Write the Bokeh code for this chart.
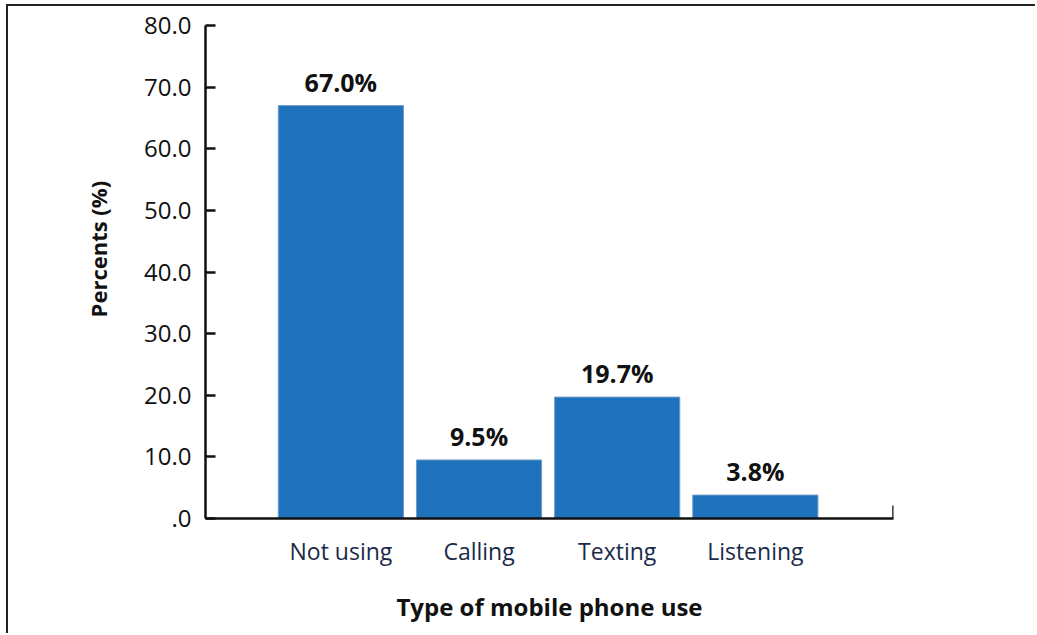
from bokeh.plotting import figure
from bokeh.models import ColumnDataSource, FixedTicker, LinearAxis, Range1d, LabelSet
from bokeh.core.properties import value
from bokeh.embed import file_html
from bokeh.resources import INLINE

categories = ["Not using", "Calling", "Texting", "Listening"]
values = [67.0, 9.5, 19.7, 3.8]
y_ticks = [0, 10, 20, 30, 40, 50, 60, 70, 80]
y_tick_labels = [".0", "10.0", "20.0", "30.0", "40.0", "50.0", "60.0", "70.0", "80.0"]

FONT = "Open Sans"
positions = list(range(1, len(categories) + 1))
src = ColumnDataSource(dict(x=positions, top=values, cat=categories,
                            lab=[f"{v:.1f}%" for v in values]))

p = figure(width=1029, height=629, output_backend="svg", toolbar_location=None,
           x_range=Range1d(0.02, 5.0), y_range=Range1d(0, 80),
           min_border_left=197, min_border_top=19, min_border_right=144, min_border_bottom=117,
           x_axis_location=None, y_axis_location=None)
p.styles = {"border-top": "2px solid #222", "border-left": "2px solid #222",
            "margin-left": "6px", "margin-top": "4px"}
p.outline_line_color = None
p.grid.visible = False
p.background_fill_color = "white"
p.border_fill_color = "white"

p.vbar(x="x", top="top", bottom=0, width=0.906, source=src,
       fill_color="#1f72bc", line_color="#6f9ccc", line_width=1)

labels = LabelSet(x="x", y="top", text="lab", source=src, text_align="center",
                  text_baseline="bottom", y_offset=7, text_font=value(FONT),
                  text_font_style="bold", text_font_size="25px", text_color="#111111")
p.add_layout(labels)

# y axis
ya = LinearAxis(ticker=FixedTicker(ticks=y_ticks),
                major_label_overrides={t: l for t, l in zip(y_ticks, y_tick_labels)},
                axis_label="\u00a0" * 8 + "Percents (%)")
ya.axis_line_width = 2.5
ya.axis_line_color = "#111111"
ya.major_tick_in = 10
ya.major_tick_out = 0
ya.major_tick_line_width = 2.5
ya.major_tick_line_color = "#111111"
ya.minor_tick_line_color = None
ya.major_label_standoff = 14
ya.major_label_text_font = FONT
ya.major_label_text_font_size = "24px"
ya.major_label_text_color = "#111111"
ya.axis_label_text_font = FONT
ya.axis_label_text_font_style = "bold"
ya.axis_label_text_font_size = "22px"
ya.axis_label_text_color = "#111111"
ya.axis_label_standoff = 28
p.add_layout(ya, "left")

# x axis with category labels
xa = LinearAxis(ticker=FixedTicker(ticks=positions),
                major_label_overrides={t: c for t, c in zip(positions, categories)},
                axis_label="Type of mobile phone use")
xa.axis_line_width = 2.5
xa.axis_line_color = "#111111"
xa.major_tick_in = 0
xa.major_tick_out = 0
xa.minor_tick_line_color = None
xa.major_label_standoff = 16
xa.major_label_text_font = FONT
xa.major_label_text_font_size = "23px"
xa.major_label_text_color = "#1b2a48"
xa.axis_label_text_font = FONT
xa.axis_label_text_font_style = "bold"
xa.axis_label_text_font_size = "24px"
xa.axis_label_text_color = "#111111"
xa.axis_label_standoff = 20
p.add_layout(xa, "below")

# end tick on the x axis
xe = LinearAxis(ticker=FixedTicker(ticks=[5.0]), major_label_overrides={5.0: ""})
xe.axis_line_color = None
xe.major_tick_in = 13
xe.major_tick_out = 0
xe.major_tick_line_width = 2.5
xe.major_tick_line_color = "#111111"
xe.minor_tick_line_color = None
xe.major_label_text_font_size = "0px"
xe.fixed_location = 0
p.add_layout(xe, "below")

open("out.html", "w").write(file_html(p, INLINE))
